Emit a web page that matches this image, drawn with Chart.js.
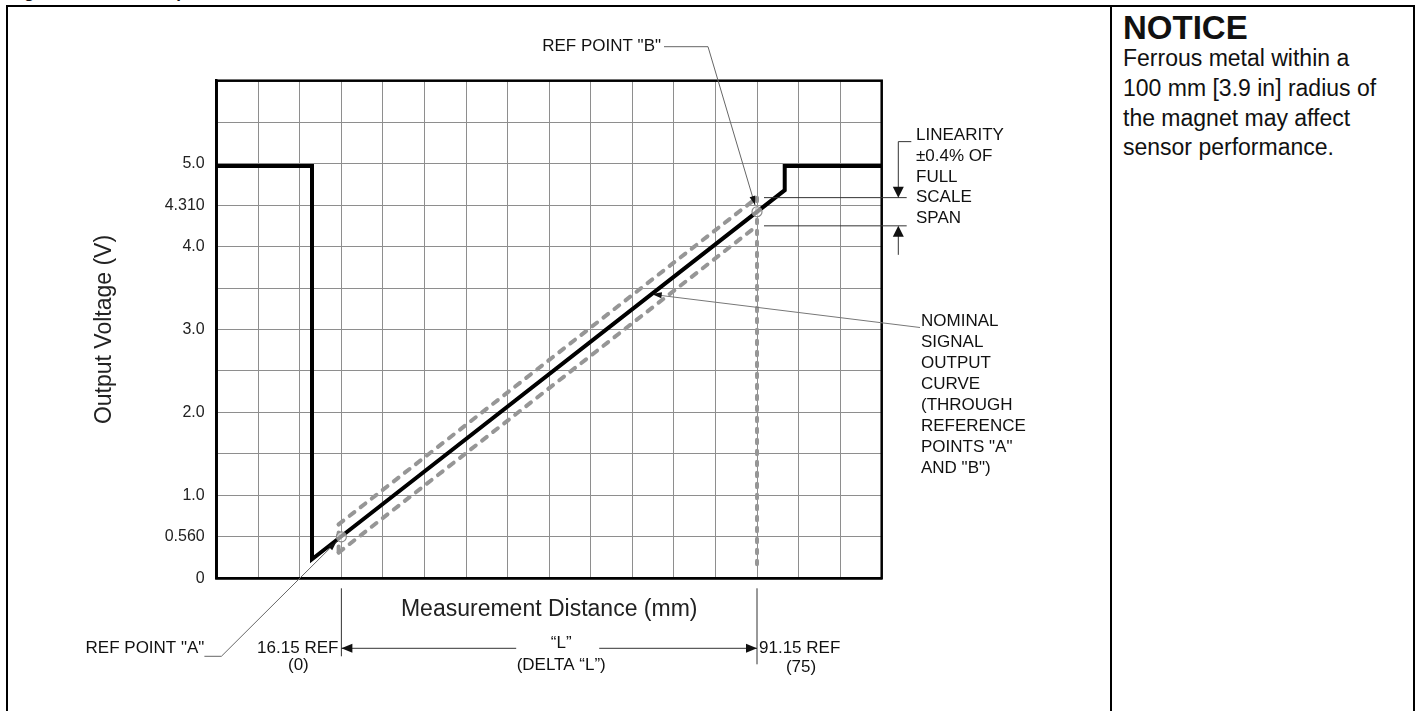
<!DOCTYPE html>
<html>
<head>
<meta charset="utf-8">
<script src="https://cdn.jsdelivr.net/npm/chart.js@4.4.1/dist/chart.umd.min.js"></script>
<style>
  html, body { margin: 0; padding: 0; background: #fff; width: 1416px; height: 711px; overflow: hidden; }
  body { position: relative; font-family: "Liberation Sans", Arial, sans-serif; color: #111; }
  #caption { position: absolute; left: 9px; top: -17px; font-weight: bold; font-size: 17px; line-height: 20px; white-space: nowrap; }
  #frame { position: absolute; left: 5.5px; top: 4.5px; width: 1409px; height: 800px; box-sizing: border-box;
           border: 2.75px solid #000; border-bottom: none; }
  #divider { position: absolute; left: 1109.8px; top: 4.5px; width: 2.6px; height: 800px; background: #000; }
  #notice { position: absolute; left: 1123px; top: 10.7px; }
  #notice .head { font-weight: bold; font-size: 33px; line-height: 33px; }
  #notice .body { position: absolute; top: 33.5px; font-size: 23px; line-height: 29.7px; white-space: nowrap; }
  #wrap { position: absolute; left: 0; top: 0; width: 1111px; height: 711px; }
</style>
</head>
<body>
<div id="caption">Figure 3. Sensor Output Performance Chart</div>
<div id="frame"></div>
<div id="divider"></div>
<div id="notice">
  <div class="head">NOTICE</div>
  <div class="body">Ferrous metal within a<br>100 mm [3.9 in] radius of<br>the magnet may affect<br>sensor performance.</div>
</div>
<div id="wrap"><canvas id="chart"></canvas></div>
<script>
// x values are measurement distance relative to ref point "A" (mm), 7.5 mm per grid column
// y values are positions on the drawing's voltage grid (0.5 per row), labelled below
const signalX = [-22.5, -5.3, -5.3, 80, 80, 97.5];
const signalV = [4.97, 4.97, 0.23, 4.68, 4.97, 4.97];

const bandUpperX = [-0.5, 75];
const bandUpperV = [0.65, 4.59];
const bandLowerX = [-0.5, 75];
const bandLowerV = [0.31, 4.25];
const bandCapX = [-0.5, -0.5];
const bandCapV = [0.31, 0.65];

const refX = [0, 75];           // ref points "A" and "B"
const refV = [0.5, 4.42];
const refDropX = [75, 75];      // dotted drop line from "B"
const refDropV = [4.59, 0.1];

const yTickValues = [0, 0.5, 1, 2, 3, 4, 4.5, 5];
const yTickLabels = ['0', '0.560', '1.0', '2.0', '3.0', '4.0', '4.310', '5.0'];

const refALabels = ['16.15 REF', '(0)'];
const refBLabels = ['91.15 REF', '(75)'];
const linearityLines = ['LINEARITY', '\u00b10.4% OF', 'FULL', 'SCALE', 'SPAN'];
const nominalLines = ['NOMINAL', 'SIGNAL', 'OUTPUT', 'CURVE', '(THROUGH', 'REFERENCE', 'POINTS "A"', 'AND "B")'];
const nominalLeaderAt = 56;

const FONT = '"Liberation Sans", Arial, sans-serif';
const pts = (xs, ys) => xs.map((x, i) => ({ x: x, y: ys[i] }));

const dashGray = '#969696';

const lineSet = (data, color, width, dash) => ({
    data: data,
    showLine: true,
    borderColor: color,
    borderWidth: width,
    borderDash: dash || [],
    borderCapStyle: dash ? 'round' : 'butt',
    borderJoinStyle: 'miter',
    pointRadius: 0,
    tension: 0
});

// Leader lines, dimension arrows and callout text
const annotate = {
    id: 'annotate',
    afterDraw(chart) {
        const { ctx, chartArea: ca, scales: { x, y } } = chart;
        const px = v => x.getPixelForValue(v);
        const py = v => y.getPixelForValue(v);

        const line = (x1, y1, x2, y2, color, w) => {
            ctx.beginPath();
            ctx.moveTo(x1, y1);
            ctx.lineTo(x2, y2);
            ctx.strokeStyle = color || '#444';
            ctx.lineWidth = w || 1;
            ctx.stroke();
        };
        const arrow = (tx, ty, fx, fy, len, half) => {
            const a = Math.atan2(ty - fy, tx - fx);
            ctx.beginPath();
            ctx.moveTo(tx, ty);
            ctx.lineTo(tx - len * Math.cos(a) + half * Math.sin(a), ty - len * Math.sin(a) - half * Math.cos(a));
            ctx.lineTo(tx - len * Math.cos(a) - half * Math.sin(a), ty - len * Math.sin(a) + half * Math.cos(a));
            ctx.closePath();
            ctx.fillStyle = '#111';
            ctx.fill();
        };
        const text = (s, tx, ty, align) => {
            ctx.textAlign = align || 'left';
            ctx.fillText(s, tx, ty);
        };
        const towards = (fx, fy, tx, ty, back) => {
            const d = Math.hypot(tx - fx, ty - fy);
            return [tx - (tx - fx) / d * back, ty - (ty - fy) / d * back];
        };

        ctx.save();

        // plot frame
        ctx.strokeStyle = '#000';
        ctx.lineWidth = 2.5;
        ctx.strokeRect(ca.left, ca.top, ca.right - ca.left, ca.bottom - ca.top);

        ctx.font = '17px ' + FONT;
        ctx.fillStyle = '#222';
        ctx.textBaseline = 'middle';

        const xA = px(refX[0]), yA = py(refV[0]);
        const xB = px(refX[1]), yB = py(refV[1]);

        // extension lines below the axis
        line(xA, ca.bottom + 10, xA, ca.bottom + 78, '#333');
        line(xB, ca.bottom + 10, xB, ca.bottom + 86, '#333');

        // "L" dimension
        const dimY = ca.bottom + 70;
        const c = (xA + xB) / 2 + 12;
        line(xA, dimY, c - 45, dimY, '#333');
        line(c + 38, dimY, xB, dimY, '#333');
        arrow(xA, dimY, xA + 20, dimY, 11, 4.5);
        arrow(xB, dimY, xB - 20, dimY, 11, 4.5);
        text('\u201cL\u201d', c, ca.bottom + 65, 'center');
        text('(DELTA \u201cL\u201d)', c, ca.bottom + 87, 'center');

        text(refALabels[0], xA - 3, dimY, 'right');
        text(refALabels[1], xA - 43, ca.bottom + 87, 'center');
        text(refBLabels[0], xB + 2, dimY, 'left');
        text(refBLabels[1], xB + 44, ca.bottom + 89, 'center');

        // REF POINT "A"
        const aKnee = [xA - 120, ca.bottom + 78];
        text('REF POINT "A"', xA - 137, dimY, 'right');
        line(xA - 137, aKnee[1], aKnee[0], aKnee[1], '#666');
        const aTip = towards(aKnee[0], aKnee[1], xA, yA, 7);
        line(aKnee[0], aKnee[1], aTip[0], aTip[1], '#666');
        arrow(aTip[0], aTip[1], aKnee[0], aKnee[1], 9, 3);

        // REF POINT "B"
        const bKnee = [xB - 49, ca.top - 34];
        text('REF POINT "B"', bKnee[0] - 47, bKnee[1], 'right');
        line(bKnee[0] - 44, bKnee[1], bKnee[0], bKnee[1], '#666');
        const bTip = towards(bKnee[0], bKnee[1], xB, yB, 7);
        line(bKnee[0], bKnee[1], bTip[0], bTip[1], '#666');
        arrow(bTip[0], bTip[1], bKnee[0], bKnee[1], 9, 3);

        // linearity band dimension
        const yU = py(bandUpperV[1]);
        const yL = py(bandLowerV[1]);
        const x0 = px(bandUpperX[1]) + 7;
        line(x0, yU, ca.right + 25, yU, '#333');
        line(x0, yL, ca.right + 25, yL, '#333');
        const ax = ca.right + 16.6;
        line(ax + 13, yU - 56, ax, yU - 56, '#333');
        line(ax, yU - 56, ax, yU - 8, '#333');
        arrow(ax, yU, ax, yU - 20, 11, 5.5);
        line(ax, yL + 29, ax, yL + 8, '#333');
        arrow(ax, yL, ax, yL + 20, 11, 5.5);
        linearityLines.forEach((s, i) => text(s, ca.right + 34.3, yU + (i - 3) * 20.7, 'left'));

        // nominal curve callout
        const t = (nominalLeaderAt - refX[0]) / (refX[1] - refX[0]);
        const nTip = [px(nominalLeaderAt), py(refV[0] + t * (refV[1] - refV[0]))];
        const nEnd = [ca.right + 38.3, py(3) - 2];
        line(nEnd[0], nEnd[1], nTip[0] + 6, nTip[1] + 1, '#777');
        arrow(nTip[0], nTip[1], nEnd[0], nEnd[1], 10, 3);
        nominalLines.forEach((s, i) => text(s, ca.right + 39.3, nEnd[1] - 6 + i * 21, 'left'));

        ctx.restore();
    }
};

const gridStyle = { color: '#8e8e8e', lineWidth: 1, drawTicks: false };

new Chart(document.getElementById('chart'), {
    type: 'scatter',
    data: {
        datasets: [
            {
                data: pts(refX, refV),
                pointRadius: 5,
                pointBackgroundColor: 'rgba(255,255,255,0.55)',
                pointBorderColor: '#8a8a8a',
                pointBorderWidth: 1.2
            },
            lineSet(pts(signalX, signalV), '#000', 4),
            lineSet(pts(bandUpperX, bandUpperV), dashGray, 4, [6, 8]),
            lineSet(pts(bandLowerX, bandLowerV), dashGray, 4, [6, 8]),
            lineSet(pts(bandCapX, bandCapV), dashGray, 4, [6, 8]),
            lineSet(pts(refDropX, refDropV), dashGray, 4, [3.5, 7.5])
        ]
    },
    options: {
        responsive: true,
        maintainAspectRatio: false,
        animation: false,
        events: [],
        layout: { padding: { left: 91, top: 80.7, right: 229.3, bottom: 87.2 } },
        plugins: {
            legend: { display: false },
            tooltip: { enabled: false }
        },
        scales: {
            x: {
                type: 'linear',
                min: -22.5,
                max: 97.5,
                ticks: { stepSize: 7.5, display: false },
                grid: gridStyle,
                border: { display: true, color: '#000', width: 2.5 },
                title: {
                    display: true,
                    text: 'Measurement Distance (mm)',
                    color: '#222',
                    font: { family: FONT, size: 23 },
                    padding: { top: 0, bottom: 0 }
                },
                afterFit: scale => { scale.height = 45.5; }
            },
            y: {
                type: 'linear',
                min: 0,
                max: 6,
                ticks: {
                    stepSize: 0.5,
                    padding: 12,
                    color: '#222',
                    font: { family: FONT, size: 16 },
                    autoSkip: false,
                    callback: value => {
                        const i = yTickValues.indexOf(value);
                        return i >= 0 ? yTickLabels[i] : '';
                    }
                },
                grid: gridStyle,
                border: { display: true, color: '#000', width: 2.5 },
                title: {
                    display: true,
                    text: 'Output Voltage (V)',
                    color: '#222',
                    font: { family: FONT, size: 23 },
                    padding: 0
                },
                afterFit: scale => { scale.width = 125.7; }
            }
        }
    },
    plugins: [annotate]
});
</script>
</body>
</html>
